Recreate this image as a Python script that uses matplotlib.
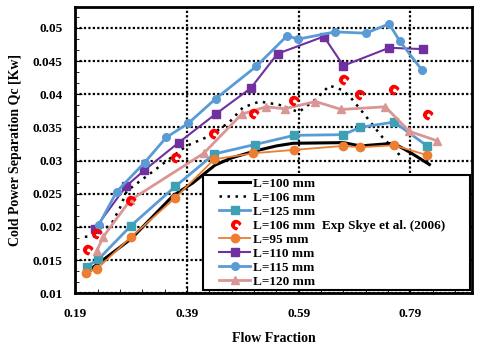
import numpy as np
import matplotlib
matplotlib.use("Agg")
import matplotlib.pyplot as plt
from matplotlib.ticker import MultipleLocator, AutoMinorLocator, FormatStrFormatter
from matplotlib.markers import MarkerStyle
from matplotlib.textpath import TextPath
from matplotlib.font_manager import FontProperties
from matplotlib.transforms import Affine2D
from matplotlib.patches import Rectangle

plt.rcParams['font.family'] = ['Liberation Serif', 'DejaVu Serif']
plt.rcParams['font.weight'] = 'bold'

# L=100 mm (simulation, solid black)
x100 = [0.21, 0.23, 0.29, 0.365, 0.40, 0.44, 0.47, 0.51, 0.55, 0.58, 0.67, 0.70, 0.76, 0.79, 0.824]
y100 = [0.0132, 0.0144, 0.0182, 0.0247, 0.0266, 0.0293, 0.0304, 0.0314, 0.0322, 0.0326, 0.0327, 0.0322, 0.0326, 0.0312, 0.0294]

# L=106 mm (simulation, dotted black)
x106 = [0.207, 0.225, 0.255, 0.270, 0.282, 0.317, 0.389, 0.43, 0.466, 0.49, 0.52, 0.555, 0.59,
        0.62, 0.645, 0.669, 0.686, 0.710, 0.740, 0.767, 0.776]
y106 = [0.0185, 0.0186, 0.0205, 0.0229, 0.0254, 0.0276, 0.0322, 0.0337, 0.0358, 0.0380, 0.0389, 0.0384, 0.0373,
        0.0392, 0.0413, 0.0406, 0.0392, 0.0367, 0.0335, 0.0312, 0.0302]

# L=125 mm
x125 = [0.210, 0.231, 0.290, 0.369, 0.439, 0.511, 0.582, 0.670, 0.700, 0.761, 0.820]
y125 = [0.0140, 0.0151, 0.0202, 0.0261, 0.0310, 0.0324, 0.0338, 0.0339, 0.0350, 0.0358, 0.0322]

# Experiment, Skye et al. (2006), L=106 mm
xexp = [0.21, 0.227, 0.288, 0.368, 0.437, 0.508, 0.579, 0.669, 0.698, 0.758, 0.820]
yexp = [0.0167, 0.0190, 0.0241, 0.0305, 0.0342, 0.0372, 0.0392, 0.0423, 0.0400, 0.0408, 0.0370]

# L=95 mm
x95 = [0.2085, 0.229, 0.289, 0.368, 0.439, 0.509, 0.581, 0.670, 0.700, 0.761, 0.820]
y95 = [0.0131, 0.0137, 0.0184, 0.0243, 0.0302, 0.0311, 0.0316, 0.0322, 0.0320, 0.0323, 0.0308]

# L=110 mm
x110 = [0.225, 0.2805, 0.313, 0.375, 0.441, 0.504, 0.552, 0.635, 0.670, 0.752, 0.812]
y110 = [0.0197, 0.0261, 0.0285, 0.0327, 0.0370, 0.0409, 0.0461, 0.0487, 0.0443, 0.0470, 0.0468]

# L=115 mm
x115 = [0.232, 0.264, 0.314, 0.353, 0.392, 0.441, 0.514, 0.569, 0.589, 0.655, 0.710, 0.752, 0.771, 0.811]
y115 = [0.0203, 0.0253, 0.0297, 0.0335, 0.0356, 0.0393, 0.0442, 0.0488, 0.0483, 0.0494, 0.0492, 0.0506, 0.0480, 0.0436]

# L=120 mm
x120 = [0.228, 0.240, 0.288, 0.420, 0.488, 0.532, 0.565, 0.620, 0.666, 0.745, 0.788, 0.837]
y120 = [0.0163, 0.0185, 0.0240, 0.0311, 0.0370, 0.0381, 0.0378, 0.0389, 0.0377, 0.0381, 0.0344, 0.0330]

xticks = [0.19, 0.39, 0.59, 0.79]

# red "c" marker used for the experimental points
tp = TextPath((0, 0), 'c', prop=FontProperties(family='DejaVu Sans', weight='bold'))
ext = tp.get_extents()
tp = tp.transformed(Affine2D().translate(-(ext.x0 + ext.x1) / 2, -(ext.y0 + ext.y1) / 2).rotate_deg(-35))
cmark = MarkerStyle(tp)

fig = plt.figure(figsize=(4.8, 3.49), dpi=100)
ax = fig.add_axes([0.157, 0.16, 0.826, 0.819])

ax.plot(x100, y100, color='black', lw=2.2, label='L=100 mm', zorder=3)
ax.plot(x106, y106, color='black', lw=1.8, ls=(0, (1, 2.2)), label='L=106 mm', zorder=3)
ax.plot(x125, y125, color='#5B9BD5', lw=2, marker='s', ms=5.5, mfc='#3EA0B5', mec='#3EA0B5',
        label='L=125 mm', zorder=3)
ax.plot(xexp, yexp, ls='none', marker=cmark, ms=8.5, color='red',
        label='L=106 mm  Exp Skye et al. (2006)', zorder=4)
ax.plot(x95, y95, color='#ED7D31', lw=1.3, marker='o', ms=6, label='L=95 mm', zorder=3)
ax.plot(x110, y110, color='#7030A0', lw=1.5, marker='s', ms=6, label='L=110 mm', zorder=3)
ax.plot(x115, y115, color='#5B9BD5', lw=2, marker='o', ms=5.5, label='L=115 mm', zorder=3)
ax.plot(x120, y120, color='#D99694', lw=2, marker='^', ms=6, label='L=120 mm', zorder=3)

ax.set_xlim(0.19, 0.9)
ax.set_ylim(0.01, 0.0531)
ax.set_xticks(xticks)
ax.yaxis.set_major_locator(MultipleLocator(0.005))
ax.xaxis.set_minor_locator(AutoMinorLocator(5))
ax.yaxis.set_minor_locator(AutoMinorLocator(3))
ax.xaxis.set_major_formatter(FormatStrFormatter('%.2f'))
ax.yaxis.set_major_formatter(FormatStrFormatter('%g'))
ax.tick_params(which='both', direction='in', labelsize=9.5)
ax.tick_params(axis='x', which='major', length=5, pad=11)
ax.tick_params(axis='y', which='major', length=5, pad=9)
ax.tick_params(which='minor', length=3)

ax.grid(True, which='major', color='black', ls=(0, (1, 1)), lw=1.6)
for s in ax.spines.values():
    s.set_linewidth(2)

ax.set_xlabel('Flow Fraction', fontsize=10, fontweight='bold', labelpad=8)
ax.set_ylabel('Cold Power Separation Qc [Kw]', fontsize=10, fontweight='bold', labelpad=8)

# legend box (white, black border) with the legend entries placed inside
box = Rectangle((0.322, 0.011), 0.673, 0.402, transform=ax.transAxes, facecolor='white',
                edgecolor='black', lw=1.5, zorder=5)
ax.add_patch(box)
leg = ax.legend(loc='upper left', bbox_to_anchor=(0.355, 0.413), borderaxespad=0, fontsize=9.5,
                frameon=False, handlelength=2.4, handletextpad=0.2, labelspacing=0.13,
                borderpad=0.2, numpoints=1)
leg.set_zorder(6)

fig.savefig('out.png', dpi=100)
